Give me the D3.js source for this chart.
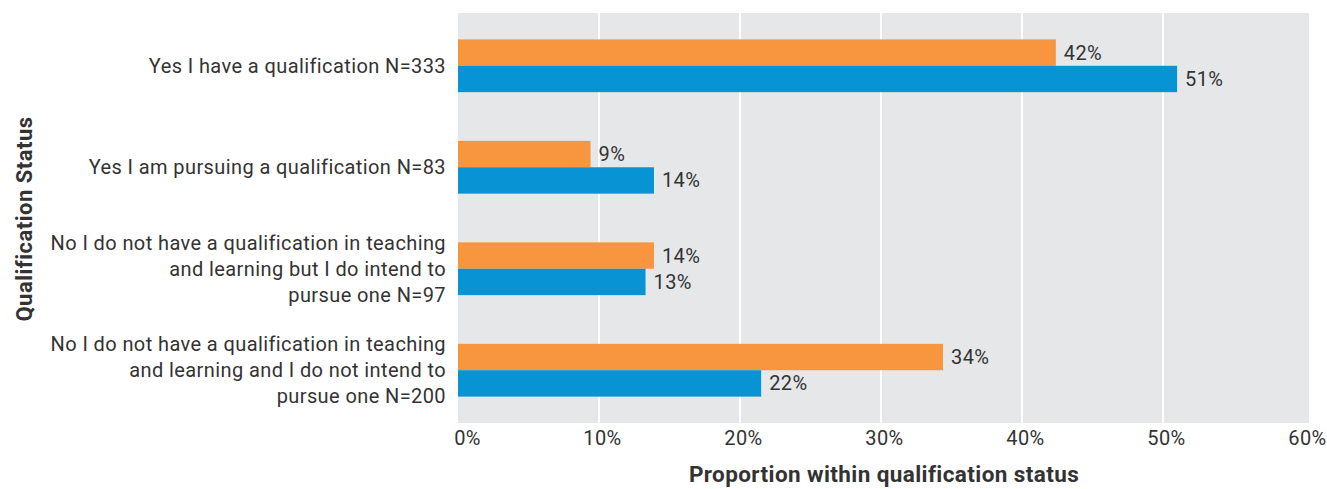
<!DOCTYPE html>
<html>
<head>
<meta charset="utf-8">
<script src="https://cdn.jsdelivr.net/npm/d3@7"></script>
<style>
  body { margin: 0; background: #fff; }
  text { font-family: Roboto, "DejaVu Sans", sans-serif; fill: #333; }
</style>
</head>
<body>
<svg id="chart" width="1327" height="489"></svg>
<script>
// categories (each one is a list of lines)
var categories = [
  ["Yes I have a qualification N=333"],
  ["Yes I am pursuing a qualification N=83"],
  ["No I do not have a qualification in teaching", "and learning but I do intend to", "pursue one N=97"],
  ["No I do not have a qualification in teaching", "and learning and I do not intend to", "pursue one N=200"]
];
var seriesNames = ["orange", "blue"];
var orangeValues = [42.4, 9.4, 13.9, 34.4];
var blueValues = [51.0, 13.9, 13.3, 21.5];
var orangeLabels = ["42%", "9%", "14%", "34%"];
var blueLabels = ["51%", "14%", "13%", "22%"];
var xTicks = [0, 10, 20, 30, 40, 50, 60];

var colors = { orange: "#f7963e", blue: "#0894d4" };

var svg = d3.select("#chart");
var mLeft = 458, mRight = 1304, mTop = 13, mBottom = 423;

var x = d3.scaleLinear().domain([0, 60]).range([mLeft, mRight]);
var y = d3.scaleBand().domain(d3.range(categories.length)).range([mTop, mBottom])
  .paddingInner(0.48).paddingOuter(0.26);
var yInner = d3.scaleBand().domain(seriesNames).range([0, y.bandwidth()]);

// background
svg.append("rect")
  .attr("x", mLeft).attr("y", mTop)
  .attr("width", 1309 - mLeft).attr("height", mBottom - mTop)
  .attr("fill", "#e6e7e9");

// grid lines
svg.selectAll("line.grid")
  .data(xTicks.slice(1, -1))
  .enter().append("line")
  .attr("class", "grid")
  .attr("x1", function(d) { return x(d); }).attr("x2", function(d) { return x(d); })
  .attr("y1", mTop).attr("y2", mBottom)
  .attr("stroke", "#fff").attr("stroke-width", 2);

// x axis
var xAxis = svg.append("g")
  .attr("transform", "translate(3," + mBottom + ")")
  .call(d3.axisBottom(x).tickValues(xTicks).tickFormat(function(d) { return d + "%"; }).tickSize(0).tickPadding(8));
xAxis.select(".domain").remove();
xAxis.selectAll("text").style("font-size", "20px").style("letter-spacing", "0.4px")
  .attr("fill", "#333").attr("font-family", "Roboto, sans-serif");
xAxis.selectAll("text").filter(function(d) { return d === 0; }).attr("dx", 6);

// bars
var rows = categories.map(function(c, i) {
  return [
    { i: i, s: "orange", v: orangeValues[i], label: orangeLabels[i] },
    { i: i, s: "blue", v: blueValues[i], label: blueLabels[i] }
  ];
});
var flat = [].concat.apply([], rows);

svg.selectAll("rect.bar")
  .data(flat)
  .enter().append("rect")
  .attr("class", "bar")
  .attr("x", x(0))
  .attr("y", function(d) { return y(d.i) + yInner(d.s); })
  .attr("width", function(d) { return x(d.v) - x(0); })
  .attr("height", yInner.bandwidth())
  .attr("fill", function(d) { return colors[d.s]; });

svg.selectAll("text.val")
  .data(flat)
  .enter().append("text")
  .attr("class", "val")
  .attr("x", function(d) { return x(d.v) + 8; })
  .attr("y", function(d) { return y(d.i) + yInner(d.s) + yInner.bandwidth() / 2; })
  .attr("dy", "0.35em")
  .style("font-size", "20px").style("letter-spacing", "0.4px")
  .text(function(d) { return d.label; });

// category labels
var lineH = 26;
var catG = svg.selectAll("text.cat")
  .data(categories)
  .enter().append("text")
  .attr("class", "cat")
  .attr("text-anchor", "end")
  .style("font-size", "20px").style("letter-spacing", "0.4px")
  .attr("y", function(d, i) { return y(i) + y.bandwidth() / 2 - (d.length - 1) * lineH / 2; });
catG.selectAll("tspan")
  .data(function(d) { return d; })
  .enter().append("tspan")
  .attr("x", 446)
  .attr("dy", function(d, j) { return j === 0 ? "0.35em" : lineH; })
  .text(function(d) { return d; });

// axis titles
svg.append("text")
  .attr("x", 884).attr("y", 482)
  .attr("text-anchor", "middle")
  .style("font-size", "22.5px").style("font-weight", "bold").style("letter-spacing", "0.4px")
  .attr("fill", "#222")
  .text("Proportion within qualification status");

svg.append("text")
  .attr("transform", "translate(32,219) rotate(-90)")
  .attr("text-anchor", "middle")
  .style("font-size", "22px").style("font-weight", "bold").style("letter-spacing", "0.5px")
  .attr("fill", "#222")
  .text("Qualification Status");
</script>
</body>
</html>
